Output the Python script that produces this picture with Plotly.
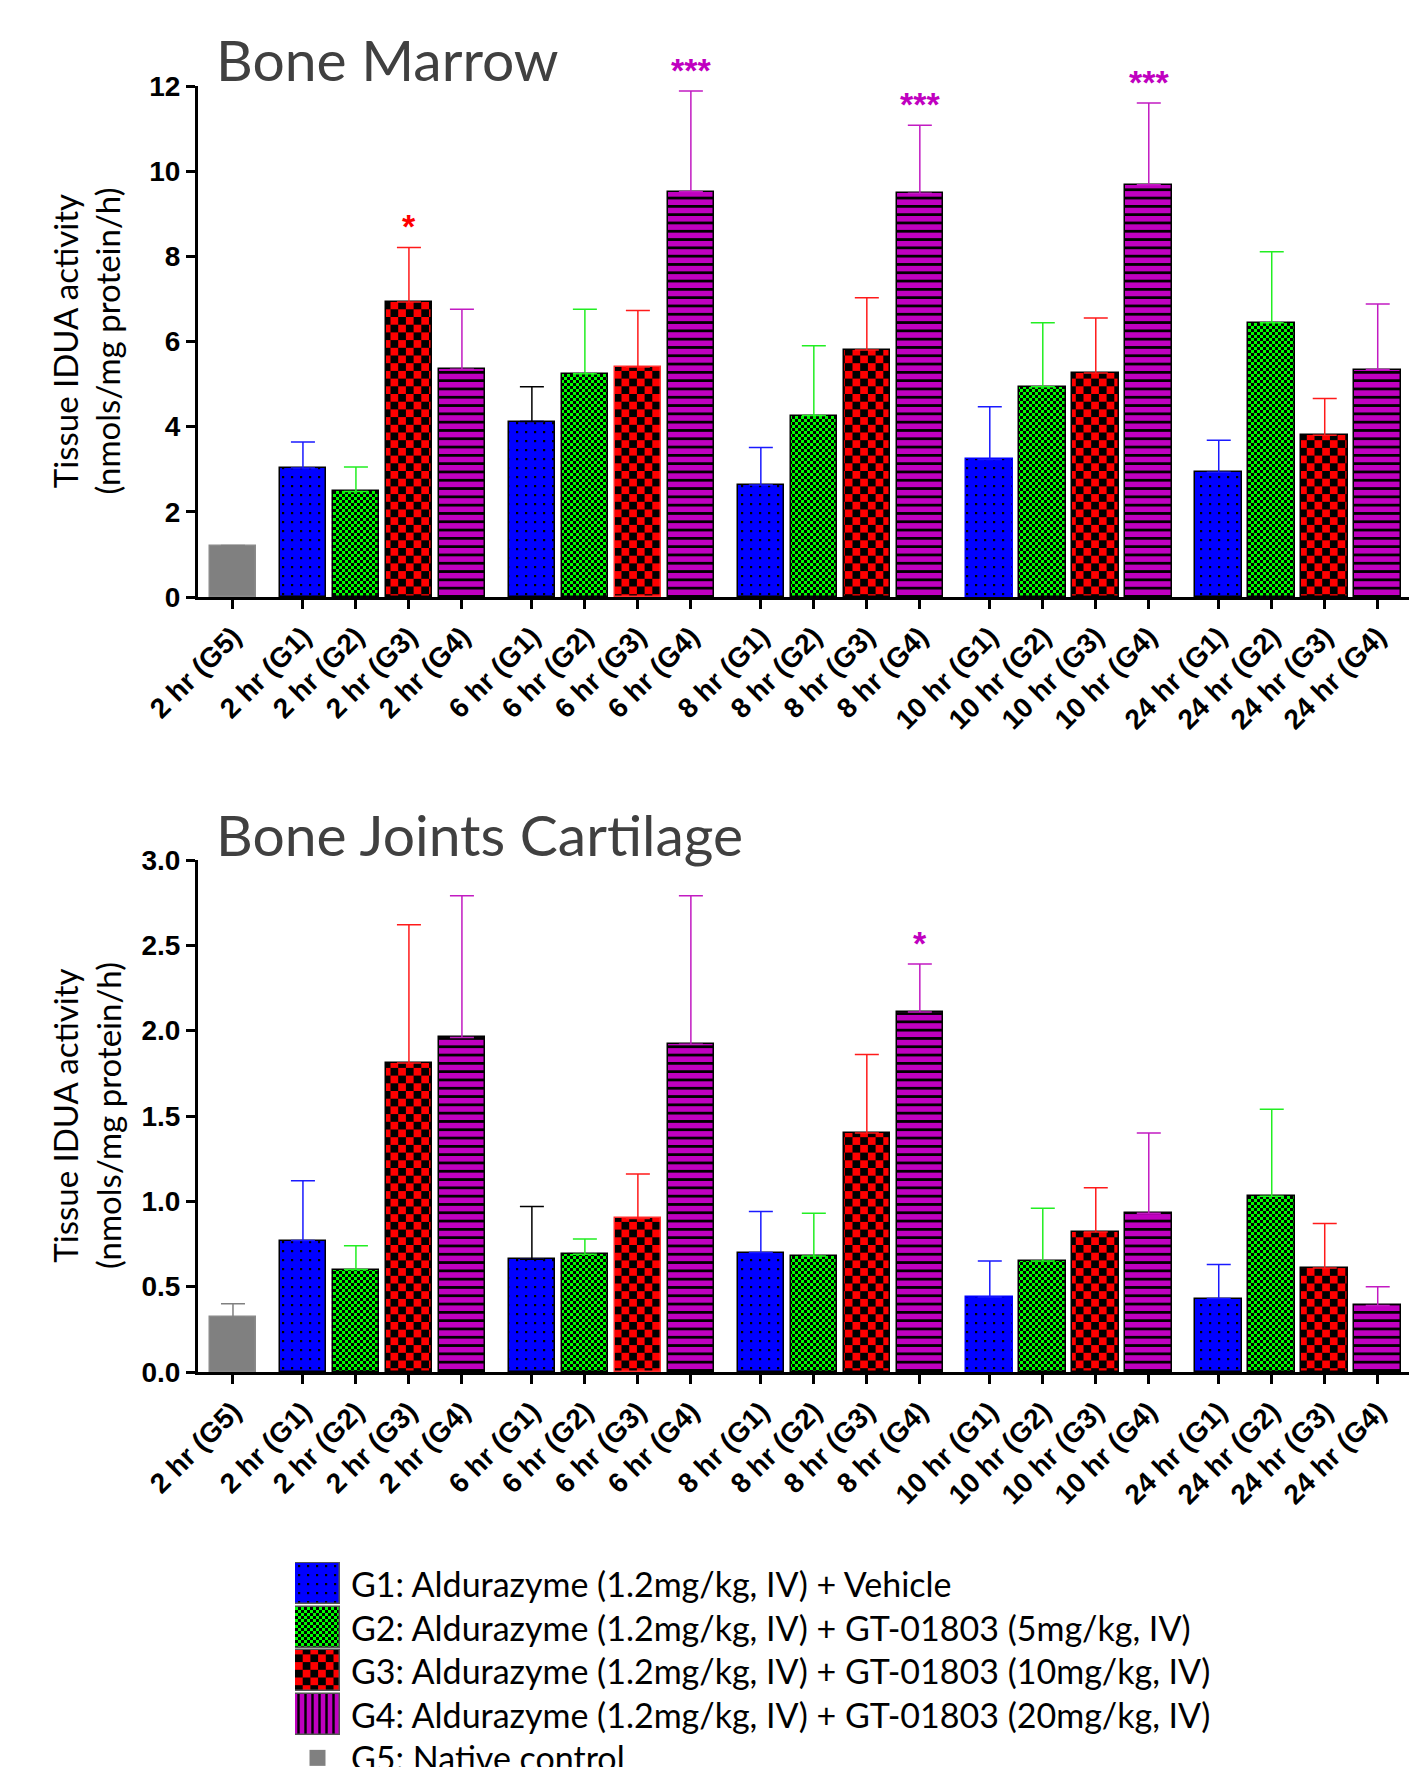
import plotly.graph_objects as go

# ---------------- data ----------------
timepoints = ["2 hr", "6 hr", "8 hr", "10 hr", "24 hr"]
group_ids = ["G1", "G2", "G3", "G4"]
control_label = "2 hr (G5)"

legend_labels = [
    "G1: Aldurazyme (1.2mg/kg, IV) + Vehicle",
    "G2: Aldurazyme (1.2mg/kg, IV) + GT-01803 (5mg/kg, IV)",
    "G3: Aldurazyme (1.2mg/kg, IV) + GT-01803 (10mg/kg, IV)",
    "G4: Aldurazyme (1.2mg/kg, IV) + GT-01803 (20mg/kg, IV)",
    "G5: Native control",
]

# Bone Marrow
bm_g5_mean = [1.19]
bm_g5_err = [0.02]
bm_g1_mean = [3.03, 4.12, 2.63, 3.23, 2.93]
bm_g1_err = [0.61, 0.82, 0.88, 1.24, 0.75]
bm_g2_mean = [2.48, 5.24, 4.26, 4.94, 6.44]
bm_g2_err = [0.57, 1.52, 1.64, 1.50, 1.67]
bm_g3_mean = [6.93, 5.40, 5.80, 5.26, 3.80]
bm_g3_err = [1.28, 1.33, 1.23, 1.29, 0.86]
bm_g4_mean = [5.35, 9.52, 9.48, 9.68, 5.34]
bm_g4_err = [1.41, 2.36, 1.60, 1.92, 1.54]
bm_g3_sig = ["*", "", "", "", ""]
bm_g4_sig = ["", "***", "***", "***", ""]

# Bone Joints Cartilage
bj_g5_mean = [0.32]
bj_g5_err = [0.08]
bj_g1_mean = [0.77, 0.66, 0.70, 0.44, 0.43]
bj_g1_err = [0.35, 0.31, 0.24, 0.21, 0.20]
bj_g2_mean = [0.60, 0.69, 0.68, 0.65, 1.03]
bj_g2_err = [0.14, 0.09, 0.25, 0.31, 0.51]
bj_g3_mean = [1.81, 0.90, 1.40, 0.82, 0.61]
bj_g3_err = [0.81, 0.26, 0.46, 0.26, 0.26]
bj_g4_mean = [1.96, 1.92, 2.11, 0.93, 0.39]
bj_g4_err = [0.83, 0.87, 0.28, 0.47, 0.11]
bj_g4_sig = ["", "", "*", "", ""]

y_title = "Tissue IDUA activity<br>(nmols/mg protein/h)"

# ---------------- style ----------------
W, H = 1409, 1767
GAP = 0.32
BAR_W = 0.88
fill_col = {"G1": "#0000ff", "G2": "#00ff00", "G3": "#ff0000", "G4": "#c000c0"}
err_col = {"G1": "#1a1aff", "G2": "#22ee22", "G3": "#ff1a1a", "G4": "#c21bc2"}


def make_pattern(fallback, path=None, size=None):
    if path is not None:
        try:
            return go.bar.marker.Pattern(path=path, size=size, fgcolor="black",
                                         bgcolor=fallback["bgcolor"], solidity=1)
        except Exception:
            pass
    return go.bar.marker.Pattern(**fallback)


patterns = {
    "G1": make_pattern(dict(shape=".", fgcolor="black", bgcolor="#0000ff", size=9, solidity=0.06),
                       path="M3,3H5.2V5.2H3Z", size=9),
    "G2": make_pattern(dict(shape=".", fgcolor="black", bgcolor="#00ff00", size=6, solidity=0.4),
                       path="M0,0H3V3H0ZM3,3H6V6H3Z", size=6),
    "G3": make_pattern(dict(shape=".", fgcolor="black", bgcolor="#ff0000", size=13, solidity=0.5),
                       path="M0,0H7.7V7.7H0ZM7.7,7.7H15.4V15.4H7.7Z", size=15.4),
    "G4": go.bar.marker.Pattern(shape="-", fgcolor="black", bgcolor="#c000c0", size=8.3, solidity=0.33),
}
legend_patterns = dict(patterns)
legend_patterns["G4"] = go.bar.marker.Pattern(shape="|", fgcolor="black", bgcolor="#c000c0", size=7, solidity=0.35)
outline_override = {"G3": {1: "#ff3030"}, "G1": {3: "#0000ff"}}
black_err_index = {"G1": 1}

TICK_FONT = dict(family="Liberation Sans", size=28, color="black", weight="bold")
TEXT_FONT = "Lato"


def slot(t, g):
    return 1 + t * 4 + g + GAP * (t + 1)


tickvals = [0] + [slot(t, g) for t in range(len(timepoints)) for g in range(len(group_ids))]
ticktext = [control_label] + [f"{tp} ({gid})" for tp in timepoints for gid in group_ids]

panels = [
    dict(xa="x", ya="y", g5=(bm_g5_mean, bm_g5_err),
         groups={"G1": (bm_g1_mean, bm_g1_err), "G2": (bm_g2_mean, bm_g2_err),
                 "G3": (bm_g3_mean, bm_g3_err), "G4": (bm_g4_mean, bm_g4_err)},
         sig={"G3": bm_g3_sig, "G4": bm_g4_sig}),
    dict(xa="x2", ya="y2", g5=(bj_g5_mean, bj_g5_err),
         groups={"G1": (bj_g1_mean, bj_g1_err), "G2": (bj_g2_mean, bj_g2_err),
                 "G3": (bj_g3_mean, bj_g3_err), "G4": (bj_g4_mean, bj_g4_err)},
         sig={"G4": bj_g4_sig}),
]

fig = go.Figure()
annotations = []

for p in panels:
    m5, e5 = p["g5"]
    fig.add_trace(go.Bar(
        x=[0], y=m5, width=BAR_W, xaxis=p["xa"], yaxis=p["ya"],
        marker=dict(color="#808080", line=dict(color="#8a8a8a", width=1.5)),
        error_y=dict(type="data", array=e5, arrayminus=[0] * len(e5), symmetric=False,
                     color="#808080", thickness=1.5, width=12),
        showlegend=False,
    ))
    for gi, gid in enumerate(group_ids):
        means, errs = p["groups"][gid]
        xs = [slot(t, gi) for t in range(len(means))]
        line_cols = [outline_override.get(gid, {}).get(i, "black") for i in range(len(means))]
        special = black_err_index.get(gid)
        errs_main = [None if i == special else e for i, e in enumerate(errs)]
        fig.add_trace(go.Bar(
            x=xs, y=means, width=BAR_W, xaxis=p["xa"], yaxis=p["ya"],
            marker=dict(color=fill_col[gid], pattern=patterns[gid],
                        line=dict(color=line_cols, width=1.5)),
            error_y=dict(type="data", array=errs_main, arrayminus=[0] * len(errs),
                         symmetric=False, color=err_col[gid], thickness=1.5, width=12),
            showlegend=False,
        ))
        if special is not None:
            fig.add_trace(go.Scatter(
                x=[xs[special]], y=[means[special]], mode="markers",
                marker=dict(opacity=0, size=1), xaxis=p["xa"], yaxis=p["ya"],
                error_y=dict(type="data", array=[errs[special]], arrayminus=[0],
                             symmetric=False, color="black", thickness=1.5, width=12),
                showlegend=False, hoverinfo="skip",
            ))
        for i, s in enumerate(p["sig"].get(gid, [])):
            if s:
                annotations.append(dict(
                    x=xs[i], y=means[i] + errs[i], xref=p["xa"], yref=p["ya"],
                    text=s, showarrow=False, yanchor="bottom", yshift=0,
                    font=dict(family="Liberation Sans", size=34, color=fill_col[gid], weight="bold"),
                ))

# ---------------- custom legend (large swatches) ----------------
for gi, gid in enumerate(group_ids):
    fig.add_trace(go.Bar(
        x=[1], y=[gi], orientation="h", width=0.94, xaxis="x3", yaxis="y3",
        marker=dict(color=fill_col[gid], pattern=legend_patterns[gid],
                    line=dict(color="#555555", width=1.5)),
        showlegend=False, hoverinfo="skip",
    ))
fig.add_trace(go.Scatter(
    x=[0.5], y=[len(group_ids)], mode="markers", xaxis="x3", yaxis="y3",
    marker=dict(symbol="square", size=16, color="#808080"),
    showlegend=False, hoverinfo="skip", cliponaxis=False,
))
for i, lab in enumerate(legend_labels):
    annotations.append(dict(
        x=349 / W, y=i, xref="paper", yref="y3", text=lab, showarrow=False,
        xanchor="left", yanchor="middle",
        font=dict(family=TEXT_FONT, size=34, color="black"),
    ))

# ---------------- titles ----------------
for txt, ypx in [("Bone Marrow", 59), ("Bone Joints Cartilage", 834)]:
    annotations.append(dict(
        x=214 / W, y=1 - ypx / H, xref="paper", yref="paper", text=txt, showarrow=False,
        xanchor="left", yanchor="middle",
        font=dict(family=TEXT_FONT, size=57, color="#404040"),
    ))
for ypx in [341.5, 1116]:
    annotations.append(dict(
        x=86 / W, y=1 - ypx / H, xref="paper", yref="paper", text=y_title, showarrow=False,
        xanchor="center", yanchor="middle", textangle=-90,
        font=dict(family=TEXT_FONT, size=33, color="black"),
    ))

x_left = 198 / W
xrange = [-0.66, 22.19]
common_x = dict(range=xrange, tickvals=tickvals, ticktext=ticktext, tickangle=-45,
                tickfont=TICK_FONT, showline=True, linecolor="black", linewidth=3,
                ticks="outside", ticklen=9, tickwidth=2.5, tickcolor="black",
                showgrid=False, zeroline=False, fixedrange=True, automargin=False)
common_y = dict(showline=True, linecolor="black", linewidth=3, ticks="outside",
                ticklen=9, tickwidth=2.5, tickcolor="black", tickfont=TICK_FONT,
                showgrid=False, zeroline=False, automargin=False)

fig.update_layout(
    template="none",
    width=W, height=H, autosize=False,
    margin=dict(l=0, r=0, t=0, b=0, pad=0),
    paper_bgcolor="white", plot_bgcolor="white",
    barmode="overlay", bargap=0,
    xaxis=dict(domain=[x_left, 1], anchor="y", **common_x),
    yaxis=dict(domain=[1 - 597 / H, 1 - 86 / H], anchor="x", range=[0, 12], dtick=2,
               tickformat="d", **common_y),
    xaxis2=dict(domain=[x_left, 1], anchor="y2", **common_x),
    yaxis2=dict(domain=[1 - 1372 / H, 1 - 860 / H], anchor="x2", range=[0, 3], dtick=0.5,
                tickformat=".1f", **common_y),
    xaxis3=dict(domain=[295 / W, 340 / W], anchor="y3", range=[0, 1], visible=False,
                fixedrange=True),
    yaxis3=dict(domain=[0, 1 - 1562 / H], anchor="x3", range=[4.21, -0.5], visible=False,
                fixedrange=True),
    annotations=annotations,
    showlegend=False,
)

fig.write_html("out.html", config={"displayModeBar": False},
               post_script="document.body.style.margin='0px';")
